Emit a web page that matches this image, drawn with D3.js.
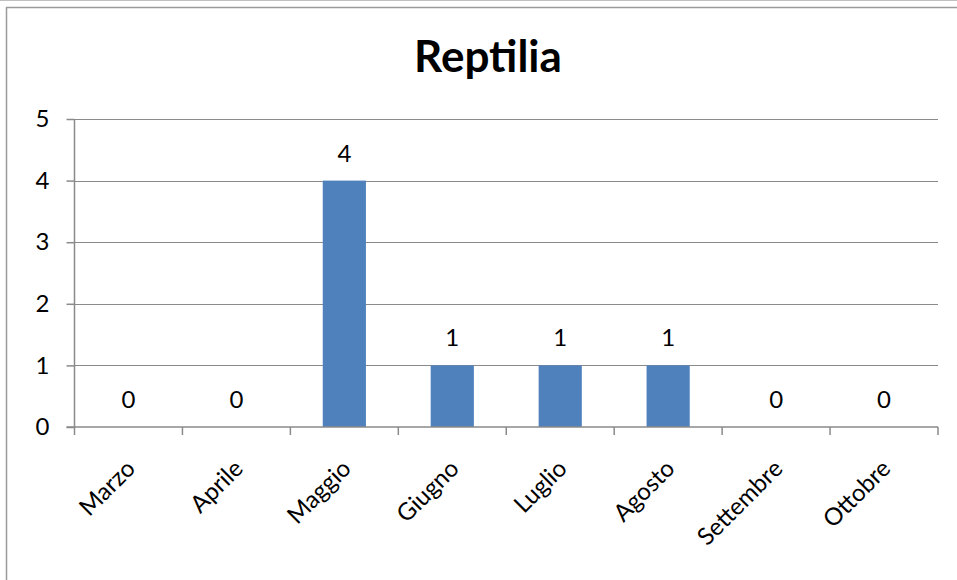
<!DOCTYPE html>
<html><head><meta charset="utf-8">
<script src="https://cdn.jsdelivr.net/npm/d3@7"></script>
<style>body{margin:0;background:#fff}svg{display:block}</style>
</head><body>
<script>
const title = "Reptilia";
const categories = ["Marzo","Aprile","Maggio","Giugno","Luglio","Agosto","Settembre","Ottobre"];
const values = [0,0,4,1,1,1,0,0];
const yTicks = [0,1,2,3,4,5];

const W=957,H=580;
const svg=d3.select("body").append("svg").attr("width",W).attr("height",H);
const font="Lato, 'Open Sans', sans-serif";
const fs=24;
// frame
svg.append("line").attr("x1",0).attr("x2",W).attr("y1",0.5).attr("y2",0.5).attr("stroke","#c0c0c0");
svg.append("line").attr("x1",6).attr("x2",W).attr("y1",7.5).attr("y2",7.5).attr("stroke","#9a9a9a").attr("stroke-width",1.5);
svg.append("line").attr("x1",6.5).attr("x2",6.5).attr("y1",7).attr("y2",H).attr("stroke","#9a9a9a").attr("stroke-width",1.5);

const L=74.5,R=938,T=119,B=427;
const x=d3.scaleBand().domain(categories).range([L,R]).paddingInner(0.6).paddingOuter(0.3);
const xb=d3.scaleBand().domain(categories).range([L,R]);
const y=d3.scaleLinear().domain([0,5]).range([B,T]);

// gridlines
svg.append("g").selectAll("line").data(yTicks.filter(d=>d>0)).join("line")
 .attr("x1",L).attr("x2",R).attr("y1",d=>Math.round(y(d))+0.5).attr("y2",d=>Math.round(y(d))+0.5)
 .attr("stroke","#8a8a8a").attr("stroke-width",1);

// bars
svg.append("g").selectAll("rect").data(values).join("rect")
 .attr("x",(d,i)=>x(categories[i])).attr("width",x.bandwidth())
 .attr("y",d=>y(d)).attr("height",d=>B-y(d)).attr("fill","#4f81bd");

// y axis
const ya=svg.append("g").attr("transform",`translate(${L},0)`)
 .call(d3.axisLeft(y).tickValues(yTicks).tickSize(8).tickPadding(17).tickFormat(d3.format("d")));
ya.select(".domain").attr("stroke","#8a8a8a").attr("stroke-width",1.5).attr("d",`M0,${B}V${T}`);
ya.selectAll(".tick line").attr("stroke","#8a8a8a").attr("stroke-width",1.5);
ya.selectAll("text").attr("font-family",font).attr("font-size",fs).attr("fill","#000");

// x axis
const xa=svg.append("g").attr("transform",`translate(0,${B})`);
xa.append("line").attr("x1",L-8).attr("x2",R).attr("y1",0).attr("y2",0).attr("stroke","#8a8a8a").attr("stroke-width",1.5);
const edges=categories.map(c=>xb(c)).concat([R]);
xa.selectAll("line.t").data(edges).join("line").attr("class","t")
 .attr("x1",d=>d).attr("x2",d=>d).attr("y1",0).attr("y2",8).attr("stroke","#8a8a8a").attr("stroke-width",1.5);
xa.selectAll("text").data(categories).join("text")
 .attr("transform",d=>`translate(${xb(d)+xb.bandwidth()/2-4},${31}) rotate(-45)`)
 .attr("text-anchor","end").attr("dy","0.71em")
 .attr("font-family",font).attr("font-size",fs).attr("fill","#000").text(d=>d);

// value labels
svg.append("g").selectAll("text").data(values).join("text")
 .attr("x",(d,i)=>xb(categories[i])+xb.bandwidth()/2).attr("y",d=>y(d)-19)
 .attr("text-anchor","middle").attr("font-family",font).attr("font-size",fs).attr("fill","#000").text(d=>d);

// title
svg.append("text").attr("x",488).attr("y",72).attr("text-anchor","middle")
 .attr("font-family",font).attr("font-weight","bold").attr("font-size",44).attr("fill","#000").text(title);
</script>
</body></html>
